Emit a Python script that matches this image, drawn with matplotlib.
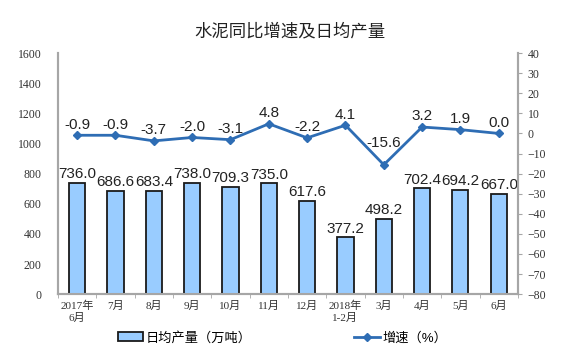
import matplotlib.pyplot as plt
import numpy as np

plt.rcParams['font.family'] = ['Liberation Sans', 'Noto Sans CJK SC', 'DejaVu Sans']

# data
months = ["2017年\n6月", "7月", "8月", "9月", "10月", "11月", "12月",
          "2018年\n1-2月", "3月", "4月", "5月", "6月"]
daily_output = [736.0, 686.6, 683.4, 738.0, 709.3, 735.0, 617.6,
                377.2, 498.2, 702.4, 694.2, 667.0]
growth = [-0.9, -0.9, -3.7, -2.0, -3.1, 4.8, -2.2, 4.1, -15.6, 3.2, 1.9, 0.0]

bar_color = '#99CCFF'
line_color = '#2E6DB4'
axis_gray = '#A6A6A6'
tick_font = ['Liberation Serif', 'Noto Sans CJK SC']

fig = plt.figure(figsize=(5.8, 3.54), dpi=100)
ax = fig.add_axes([0.1, 0.169, 0.793, 0.681])
ax2 = ax.twinx()

x = np.arange(len(months))
bars = ax.bar(x, daily_output, width=0.42, color=bar_color,
              edgecolor='#1a1a1a', linewidth=1.3, label='日均产量（万吨）', zorder=3)
for xi, v in zip(x, daily_output):
    ax.text(xi, v + 12, f"{v:.1f}", ha='center', va='bottom', fontsize=11, color='#222222')

ax.set_ylim(0, 1600)
ax.set_yticks(range(0, 1601, 200))
ax.set_xlim(-0.5, len(months) - 0.5)
ax.set_xticks(x)
ax.set_xticklabels(months, fontsize=8, family=tick_font, color='#333333')
ax.set_xticks(np.arange(-0.5, len(months), 1), minor=True)
ax.tick_params(axis='x', which='major', length=0, pad=5)
ax.tick_params(axis='x', which='minor', length=3, color=axis_gray, direction='out')
ax.tick_params(axis='y', length=0, labelsize=8.5, colors='#333333', pad=12)
for lab in ax.get_yticklabels():
    lab.set_family(tick_font)

line, = ax2.plot(x, growth, color=line_color, linewidth=2, marker='D', markersize=4,
                 label='增速（%）', zorder=4)
for i, (xi, v) in enumerate(zip(x, growth)):
    # the deep dip gets its label lifted clear of the line
    dy = 7.5 if i > 0 and v < growth[i - 1] - 10 else 1.8
    ax2.text(xi, v + dy, f"{v:.1f}", ha='center', va='bottom', fontsize=11, color='#222222',
             zorder=5)
ax2.set_ylim(-80, 40)
ax2.set_yticks(range(-80, 41, 10))
ax2.tick_params(axis='y', length=3, color=axis_gray, labelsize=8.5, colors='#333333', pad=4)
for lab in ax2.get_yticklabels():
    lab.set_family(tick_font)

for a in (ax, ax2):
    a.spines['top'].set_visible(False)
    for s in ('left', 'right', 'bottom'):
        a.spines[s].set_color(axis_gray)
        a.spines[s].set_linewidth(1.5)

fig.suptitle('水泥同比增速及日均产量', y=0.935, fontsize=12.5, color='#222222')

fig.legend(handles=[bars, line], loc='center', bbox_to_anchor=(0.487, 0.045), ncol=2,
           frameon=False, fontsize=9.5, columnspacing=7.8, handlelength=1.9,
           handletextpad=0.2)

fig.savefig('out.png', dpi=100)
